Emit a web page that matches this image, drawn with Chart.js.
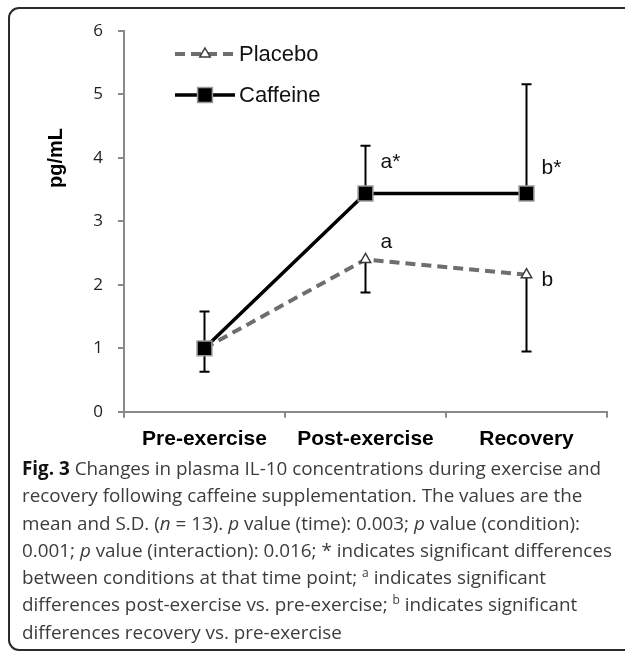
<!DOCTYPE html>
<html>
<head>
<meta charset="utf-8">
<script src="https://cdn.jsdelivr.net/npm/chart.js@4.4.1/dist/chart.umd.min.js"></script>
<style>
  html, body { margin:0; padding:0; background:#fff; }
  body { width:625px; height:651px; position:relative; overflow:hidden; }
  #frame { position:absolute; left:8px; top:7px; width:640px; height:640px; border:2px solid #2a2a2a; border-radius:11px; box-sizing:content-box; }
  #chart { position:absolute; left:0; top:0; }
  #cap { position:absolute; left:22px; top:455px; font-family:"Open Sans", sans-serif; font-size:18.85px; line-height:27.3px; color:#3c3c3c; white-space:nowrap; }
  #cap b { color:#111; font-weight:700; }
  #cap sup { font-size:12px; line-height:0; vertical-align:7px; }
</style>
</head>
<body>
<div id="frame"></div>
<canvas id="chart" width="625" height="463"></canvas>
<div id="cap"><b>Fig. 3</b> Changes in plasma IL-10 concentrations during exercise and<br>recovery following caffeine supplementation. The values are the<br>mean and S.D. (<i>n</i>&nbsp;=&nbsp;13). <i>p</i> value (time): 0.003; <i>p</i> value (condition):<br>0.001; <i>p</i> value (interaction): 0.016; * indicates significant differences<br>between conditions at that time point; <sup>a</sup> indicates significant<br>differences post-exercise vs. pre-exercise; <sup>b</sup> indicates significant<br>differences recovery vs. pre-exercise</div>
<script>
const categories = ['Pre-exercise', 'Post-exercise', 'Recovery'];
const seriesNames = ['Placebo', 'Caffeine'];
const placeboMean = [1.0, 2.40, 2.16];
const placeboSD = [0.37, 0.52, 1.21];
const caffeineMean = [1.0, 3.44, 3.44];
const caffeineSD = [0.58, 0.75, 1.72];
const yTicks = [0, 1, 2, 3, 4, 5, 6];
const placeboMarks = ['', 'a', 'b'];
const caffeineMarks = ['', 'a*', 'b*'];
const yTitle = 'pg/mL';

const ARIAL = '"Liberation Sans", Arial, sans-serif';

const placeboStyle = { color:'#6e6e6e', width:4, dash:[10,6], point:'triangle', radius:6, pointBg:'#ffffff', pointBorder:'#3a3a3a', pointBorderWidth:1.5 };
const caffeineStyle = { color:'#000000', width:3.5, dash:[], point:'rect', radius:10.5, pointBg:'#000000', pointBorder:'#9a9a9a', pointBorderWidth:1.5 };

const extrasPlugin = {
  id: 'extras',
  beforeDatasetsDraw(chart) {
    const ctx = chart.ctx, xs = chart.scales.x, ys = chart.scales.y;
    ctx.save();
    ctx.strokeStyle = '#000';
    ctx.lineWidth = 2;
    const cap = 5;
    const bars = [
      { mean: caffeineMean, sd: caffeineSD, dir: 1 },
      { mean: placeboMean, sd: placeboSD, dir: -1 }
    ];
    bars.forEach(b => {
      b.mean.forEach((m, i) => {
        const x = xs.getPixelForValue(i);
        const y0 = ys.getPixelForValue(m);
        const y1 = ys.getPixelForValue(m + b.dir * b.sd[i]);
        ctx.beginPath();
        ctx.moveTo(x, y0); ctx.lineTo(x, y1);
        ctx.moveTo(x - cap, y1); ctx.lineTo(x + cap, y1);
        ctx.stroke();
      });
    });
    ctx.restore();
  },
  afterDraw(chart) {
    const ctx = chart.ctx, xs = chart.scales.x, ys = chart.scales.y, ca = chart.chartArea;
    ctx.save();
    ctx.fillStyle = '#111';
    ctx.font = '21px ' + ARIAL;
    ctx.textAlign = 'left';
    ctx.textBaseline = 'middle';
    const cOff = [0, -31, -25];
    const pOff = [0, -17, 5];
    caffeineMarks.forEach((t, i) => {
      if (!t) return;
      ctx.fillText(t, xs.getPixelForValue(i) + 15, ys.getPixelForValue(caffeineMean[i]) + cOff[i]);
    });
    placeboMarks.forEach((t, i) => {
      if (!t) return;
      ctx.fillText(t, xs.getPixelForValue(i) + 15, ys.getPixelForValue(placeboMean[i]) + pOff[i]);
    });
    ctx.save();
    ctx.translate(ca.left - 68, ca.top + 127);
    ctx.rotate(-Math.PI / 2);
    ctx.font = 'bold 20px ' + ARIAL;
    ctx.textAlign = 'center';
    ctx.fillStyle = '#000';
    ctx.fillText(yTitle, 0, 0);
    ctx.restore();
    const styles = [placeboStyle, caffeineStyle];
    const lx0 = ca.left + 51, lx1 = ca.left + 111, lmx = ca.left + 81;
    seriesNames.forEach((name, k) => {
      const st = styles[k];
      const ly = ca.top + 23 + k * 41;
      ctx.save();
      ctx.strokeStyle = st.color;
      ctx.lineWidth = st.width;
      ctx.setLineDash(st.dash);
      ctx.beginPath();
      ctx.moveTo(lx0, ly); ctx.lineTo(lx1, ly);
      ctx.stroke();
      ctx.restore();
      ctx.save();
      ctx.fillStyle = st.pointBg;
      ctx.strokeStyle = st.pointBorder;
      ctx.lineWidth = st.pointBorderWidth;
      ctx.beginPath();
      if (st.point === 'rect') {
        const s = st.radius * Math.SQRT1_2;
        ctx.rect(lmx - s, ly - s, 2 * s, 2 * s);
      } else {
        const r = st.radius;
        ctx.moveTo(lmx, ly - r);
        ctx.lineTo(lmx + r * 0.866, ly + r * 0.5);
        ctx.lineTo(lmx - r * 0.866, ly + r * 0.5);
        ctx.closePath();
      }
      ctx.fill();
      ctx.stroke();
      ctx.restore();
      ctx.fillStyle = '#111';
      ctx.font = '22px ' + ARIAL;
      ctx.textAlign = 'left';
      ctx.textBaseline = 'middle';
      ctx.fillText(name, lx1 + 4, ly + 1);
    });
    ctx.restore();
  }
};

function mkDataset(label, data, st, order) {
  return {
    label, data, order,
    borderColor: st.color, borderWidth: st.width, borderDash: st.dash,
    pointStyle: st.point, pointRadius: st.radius,
    pointBackgroundColor: st.pointBg, pointBorderColor: st.pointBorder,
    pointBorderWidth: st.pointBorderWidth, tension: 0, fill: false
  };
}

new Chart(document.getElementById('chart'), {
  type: 'line',
  data: {
    labels: categories,
    datasets: [
      mkDataset(seriesNames[0], placeboMean, placeboStyle, 1),
      mkDataset(seriesNames[1], caffeineMean, caffeineStyle, 0)
    ]
  },
  options: {
    responsive: false,
    animation: false,
    layout: { padding: { left: 41, right: 18, top: 31, bottom: 2 } },
    plugins: { legend: { display: false }, tooltip: { enabled: false } },
    scales: {
      x: {
        type: 'category',
        offset: true,
        grid: { offset: true, drawOnChartArea: false, tickLength: 6, color: '#8a8a8a', lineWidth: 2 },
        border: { color: '#8a8a8a', width: 2 },
        ticks: { font: { family: ARIAL, size: 21, weight: 'bold' }, color: '#000', padding: 9, maxRotation: 0 }
      },
      y: {
        min: 0, max: 6,
        afterBuildTicks(s) { s.ticks = yTicks.map(v => ({ value: v })); },
        afterFit(s) { s.width = 83; },
        grid: { drawOnChartArea: false, tickLength: 6, color: '#8a8a8a', lineWidth: 2 },
        border: { color: '#8a8a8a', width: 2 },
        ticks: { font: { family: '"Open Sans", sans-serif', size: 17 }, color: '#222', padding: 15 }
      }
    }
  },
  plugins: [extrasPlugin]
});
</script>
</body>
</html>
